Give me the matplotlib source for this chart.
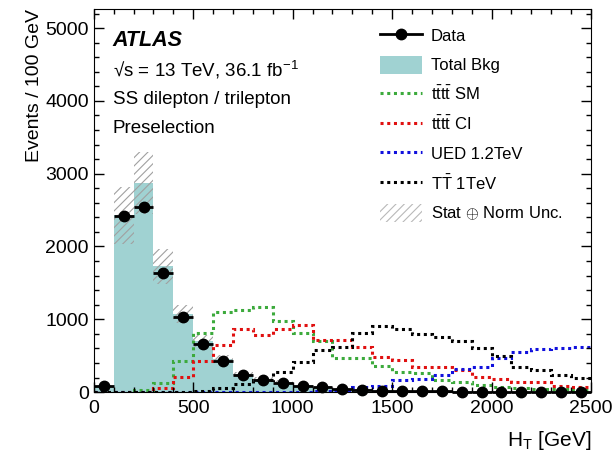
import numpy as np
import matplotlib
matplotlib.use("Agg")
import matplotlib.pyplot as plt
from matplotlib.lines import Line2D
from matplotlib.patches import Patch
from matplotlib.ticker import MultipleLocator

plt.rcParams['font.family'] = ['Liberation Sans', 'DejaVu Sans']
plt.rcParams['mathtext.fontset'] = 'custom'
plt.rcParams['mathtext.rm'] = 'Liberation Sans'
plt.rcParams['mathtext.it'] = 'Liberation Sans:italic'
plt.rcParams['hatch.linewidth'] = 0.8

# HT bins, 100 GeV wide
edges = np.arange(0, 2600, 100)
centers = edges[:-1] + 50

data = [90, 2420, 2540, 1635, 1035, 655, 430, 240, 165, 125, 82, 65, 38, 35,
        20, 15, 12, 10, 8, 6, 5, 4, 3, 3, 2]
total_bkg = [75, 2430, 2870, 1730, 1070, 700, 460, 250, 185, 140, 95, 68, 48, 36,
             26, 20, 15, 12, 9, 7, 6, 5, 4, 3, 3]
bkg_unc = [15, 390, 430, 240, 120, 80, 55, 32, 25, 20, 14, 10, 8, 6,
           5, 4, 3, 3, 2, 2, 2, 1, 1, 1, 1]
tttt_sm = [0, 0, 30, 130, 430, 810, 1095, 1130, 1170, 975, 810, 705, 475, 471,
           360, 279, 256, 160, 140, 96, 73, 62, 48, 36, 28]
tttt_ci = [0, 0, 5, 50, 210, 430, 645, 870, 790, 865, 915, 714, 714, 625,
           485, 445, 348, 339, 298, 210, 176, 142, 135, 85, 64]
ued = [0, 0, 0, 0, 0, 0, 0, 0, 0, 0, 0, 15, 30, 65,
       90, 165, 185, 233, 311, 339, 462, 545, 590, 600, 615]
tt_1tev = [0, 0, 0, 5, 8, 15, 50, 115, 170, 280, 417, 580, 623, 806,
           909, 862, 792, 760, 700, 605, 490, 348, 302, 233, 188]

bkg_color = '#a0d2d2'
sig_style = dict(linestyle=(0, (1, 1.2)), lw=2.2)
sig_colors = ['#3caa3c', '#e01010', '#1010dd', 'black']

fig = plt.figure(figsize=(6.13, 4.57), dpi=100)
ax = fig.add_axes([0.153, 0.142, 0.811, 0.838])

# total background + uncertainty band
ax.stairs(total_bkg, edges, fill=True, color=bkg_color, lw=0)
lo = np.array(total_bkg) - np.array(bkg_unc)
hi = np.array(total_bkg) + np.array(bkg_unc)
ax.stairs(hi, edges, baseline=lo, fill=True, facecolor='none',
          edgecolor='#a0a0a0', hatch='////', lw=0)

# signals
for vals, col in zip([tttt_sm, tttt_ci, ued, tt_1tev], sig_colors):
    ax.stairs(vals, edges, baseline=None, color=col, **sig_style)

# data
ax.errorbar(centers, data, xerr=50, yerr=np.sqrt(data), fmt='o', color='black',
            ms=7.5, elinewidth=2, capsize=0, clip_on=False, zorder=5)

ax.set_xlim(0, 2500)
ax.set_ylim(0, 5260)
ax.xaxis.set_major_locator(MultipleLocator(500))
ax.xaxis.set_minor_locator(MultipleLocator(100))
ax.yaxis.set_major_locator(MultipleLocator(1000))
ax.yaxis.set_minor_locator(MultipleLocator(200))
ax.tick_params(which='both', direction='in', top=True, right=True, labelsize=14)
ax.tick_params(which='major', length=7, width=1)
ax.tick_params(which='minor', length=3.5, width=1)
ax.tick_params(axis='x', pad=6)

ax.set_xlabel(r'$\mathrm{H_T}$ [GeV]', loc='right', fontsize=15, labelpad=8)
ax.set_ylabel('Events / 100 GeV', loc='top', fontsize=14, labelpad=2)

# ATLAS label block
ax.text(0.038, 0.919, 'ATLAS', transform=ax.transAxes, fontsize=15.5,
        fontweight='bold', fontstyle='italic', va='center')
ax.text(0.038, 0.841, '√s = 13 TeV, 36.1 fb$^{\\mathrm{-1}}$', transform=ax.transAxes,
        fontsize=13.5, va='center')
ax.text(0.038, 0.765, 'SS dilepton / trilepton', transform=ax.transAxes,
        fontsize=13.5, va='center')
ax.text(0.038, 0.689, 'Preselection', transform=ax.transAxes,
        fontsize=13.5, va='center')

handles = [
    Line2D([], [], color='black', marker='o', ms=7.5, lw=2),
    Patch(facecolor=bkg_color, lw=0),
    Line2D([], [], color=sig_colors[0], **sig_style),
    Line2D([], [], color=sig_colors[1], **sig_style),
    Line2D([], [], color=sig_colors[2], **sig_style),
    Line2D([], [], color=sig_colors[3], **sig_style),
    Patch(facecolor='none', edgecolor='#b8b8b8', hatch='////', lw=0),
]
labels = ['Data', 'Total Bkg', r'$\mathrm{t\bar{t}t\bar{t}}$ SM',
          r'$\mathrm{t\bar{t}t\bar{t}}$ CI', 'UED 1.2TeV',
          r'$\mathrm{T\bar{T}}$ 1TeV', r'Stat $\oplus$ Norm Unc.']
ax.legend(handles, labels, loc='upper left', bbox_to_anchor=(0.5755, 0.954),
          frameon=False, fontsize=12, handlelength=2.5, handleheight=1.26,
          handletextpad=0.54, labelspacing=0.68, borderpad=0, borderaxespad=0)

fig.savefig('out.png', dpi=100)
